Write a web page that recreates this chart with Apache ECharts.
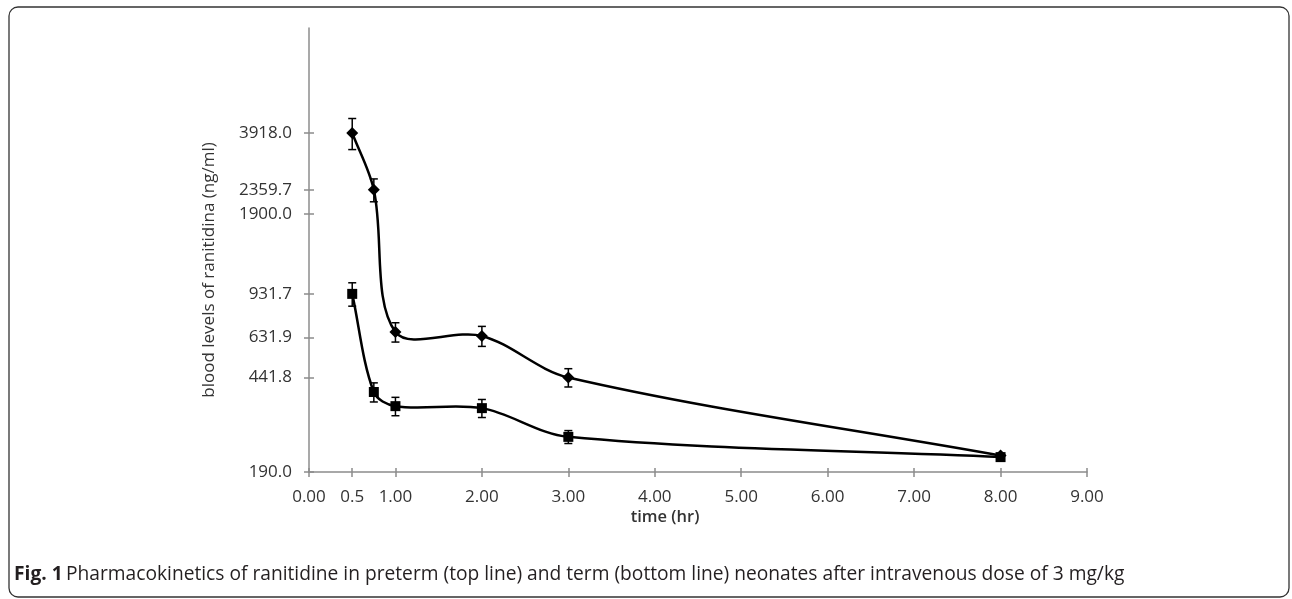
<!DOCTYPE html>
<html>
<head>
<meta charset="utf-8">
<script src="https://cdn.jsdelivr.net/npm/echarts@6/dist/echarts.min.js"></script>
<style>
  html, body { margin: 0; padding: 0; background: #fff; }
  #chart { width: 1292px; height: 599px; }
</style>
</head>
<body>
<div id="chart"></div>
<script>
// time points (hr)
var times = [0.5, 0.75, 1.0, 2.0, 3.0, 8.0];
// preterm neonates (top line), ng/ml
var pretermMean = [3918.0, 2359.7, 663, 640, 441.8, 220];
var pretermErr = [540, 240, 57, 57, 36, 0];
// term neonates (bottom line), ng/ml
var termMean = [931.7, 388, 342, 336, 260, 217];
var termErr = [97, 33, 28, 27, 15, 0];
// tick labels
var yTicks = [190.0, 441.8, 631.9, 931.7, 1900.0, 2359.7, 3918.0];
var xTicks = [0, 0.5, 1, 2, 3, 4, 5, 6, 7, 8, 9];

var font = "'Open Sans', sans-serif";
var axisGrey = '#8c8c8c';

function pairs(xs, ys) {
  return xs.map(function (x, i) { return [x, ys[i]]; });
}
function errData(xs, ys, es) {
  var out = [];
  xs.forEach(function (x, i) {
    if (es[i] > 0) out.push([x, ys[i] - es[i], ys[i] + es[i]]);
  });
  return out;
}
// one item per segment: previous, start, end, next point
function segData(xs, ys) {
  var n = xs.length, out = [];
  for (var i = 0; i < n - 1; i++) {
    var a = Math.max(i - 1, 0), d = Math.min(i + 2, n - 1);
    out.push([xs[a], ys[a], xs[i], ys[i], xs[i + 1], ys[i + 1], xs[d], ys[d]]);
  }
  return out;
}
function errRender(params, api) {
  var lo = api.coord([api.value(0), api.value(1)]);
  var hi = api.coord([api.value(0), api.value(2)]);
  var w = 4;
  var st = { stroke: '#000', lineWidth: 1.5 };
  return {
    type: 'group',
    children: [
      { type: 'line', shape: { x1: hi[0], y1: hi[1], x2: lo[0], y2: lo[1] }, style: st },
      { type: 'line', shape: { x1: hi[0] - w, y1: hi[1], x2: hi[0] + w, y2: hi[1] }, style: st },
      { type: 'line', shape: { x1: lo[0] - w, y1: lo[1], x2: lo[0] + w, y2: lo[1] }, style: st }
    ]
  };
}
function dist(a, b) {
  return Math.sqrt((a[0] - b[0]) * (a[0] - b[0]) + (a[1] - b[1]) * (a[1] - b[1]));
}
// smoothed segment, tangent length scaled by neighbouring segment lengths
function curveRender(params, api) {
  var p0 = api.coord([api.value(0), api.value(1)]);
  var p1 = api.coord([api.value(2), api.value(3)]);
  var p2 = api.coord([api.value(4), api.value(5)]);
  var p3 = api.coord([api.value(6), api.value(7)]);
  var l0 = dist(p0, p1), l1 = dist(p1, p2), l2 = dist(p2, p3);
  var s1 = l1 / (l0 + l1) / 3;
  var s2 = l1 / (l1 + l2) / 3;
  return {
    type: 'bezierCurve',
    shape: {
      x1: p1[0], y1: p1[1],
      x2: p2[0], y2: p2[1],
      cpx1: p1[0] + (p2[0] - p0[0]) * s1, cpy1: p1[1] + (p2[1] - p0[1]) * s1,
      cpx2: p2[0] - (p3[0] - p1[0]) * s2, cpy2: p2[1] - (p3[1] - p1[1]) * s2
    },
    style: { stroke: '#000', lineWidth: 2.5, fill: null, lineCap: 'round' }
  };
}

var chart = echarts.init(document.getElementById('chart'));
chart.setOption({
  animation: false,
  grid: { left: 309, right: 205, top: 28, bottom: 127 },
  xAxis: [
    {
      type: 'value',
      position: 'bottom',
      min: 0,
      max: 9,
      splitLine: { show: false },
      axisLine: { lineStyle: { color: axisGrey, width: 1.5 } },
      axisTick: { customValues: xTicks, length: 5, lineStyle: { color: axisGrey, width: 1.5 } },
      axisLabel: {
        customValues: xTicks,
        margin: 17,
        color: '#333',
        fontSize: 17,
        fontFamily: font,
        formatter: function (v) { return v === 0.5 ? '0.5' : v.toFixed(2); }
      }
    },
    {
      // inner half of the crossing ticks
      type: 'value',
      position: 'bottom',
      offset: 0,
      min: 0,
      max: 9,
      splitLine: { show: false },
      axisLine: { show: false },
      axisTick: { inside: true, customValues: xTicks, length: 4, lineStyle: { color: axisGrey, width: 1.5 } },
      axisLabel: { show: false }
    }
  ],
  yAxis: [
    {
      type: 'log',
      logBase: 10,
      position: 'left',
      min: 190,
      max: 10000,
      splitLine: { show: false },
      axisLine: { show: true, lineStyle: { color: axisGrey, width: 1.5 } },
      axisTick: { show: true, customValues: yTicks, length: 5, lineStyle: { color: axisGrey, width: 1.5 } },
      axisLabel: {
        customValues: yTicks,
        margin: 17,
        color: '#333',
        fontSize: 17,
        fontFamily: font,
        formatter: function (v) { return Number(v).toFixed(1); }
      }
    },
    {
      type: 'log',
      logBase: 10,
      position: 'left',
      offset: 0,
      min: 190,
      max: 10000,
      splitLine: { show: false },
      axisLine: { show: false },
      axisTick: { show: true, inside: true, customValues: yTicks, length: 5, lineStyle: { color: axisGrey, width: 1.5 } },
      axisLabel: { show: false }
    }
  ],
  graphic: [
    {
      type: 'rect',
      shape: { x: 9, y: 7, width: 1280, height: 590, r: 9 },
      style: { fill: 'none', stroke: '#333', lineWidth: 1.3 }
    },
    {
      type: 'text',
      x: 209, y: 270,
      rotation: Math.PI / 2,
      style: {
        text: 'blood levels of ranitidina (ng/ml)',
        font: "17px " + font,
        fill: '#333',
        align: 'center',
        verticalAlign: 'middle'
      }
    },
    {
      type: 'text',
      x: 665, y: 517,
      style: {
        text: 'time (hr)',
        font: "600 16.5px " + font,
        fill: '#333',
        align: 'center',
        verticalAlign: 'middle'
      }
    },
    {
      type: 'text',
      x: 14, y: 575,
      style: {
        rich: {
          b: { fontFamily: font, fontSize: 19.2, fontWeight: 'bold', fill: '#231f20' },
          n: { fontFamily: font, fontSize: 19.2, fill: '#231f20' }
        },
        text: '{b|Fig. 1} {n|Pharmacokinetics of ranitidine in preterm (top line) and term (bottom line) neonates after intravenous dose of 3 mg/kg}',
        verticalAlign: 'middle'
      }
    }
  ],
  series: [
    {
      type: 'custom',
      renderItem: curveRender,
      data: segData(times, pretermMean),
      z: 2
    },
    {
      type: 'custom',
      renderItem: curveRender,
      data: segData(times, termMean),
      z: 2
    },
    {
      name: 'preterm',
      type: 'scatter',
      data: pairs(times, pretermMean),
      symbol: 'diamond',
      symbolSize: 12,
      itemStyle: { color: '#000', opacity: 1 },
      z: 3
    },
    {
      name: 'term',
      type: 'scatter',
      data: pairs(times, termMean),
      symbol: 'rect',
      symbolSize: 10,
      itemStyle: { color: '#000', opacity: 1 },
      z: 3
    },
    {
      type: 'custom',
      renderItem: errRender,
      data: errData(times, pretermMean, pretermErr),
      z: 4
    },
    {
      type: 'custom',
      renderItem: errRender,
      data: errData(times, termMean, termErr),
      z: 4
    }
  ]
});
</script>
</body>
</html>
